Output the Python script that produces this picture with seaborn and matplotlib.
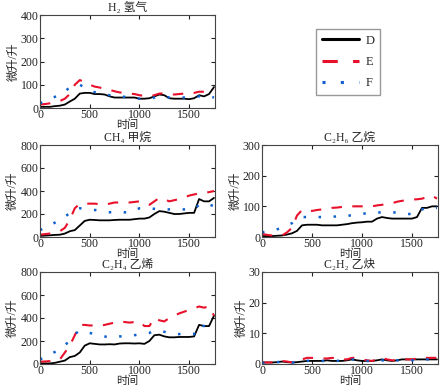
import numpy as np
import pandas as pd
from matplotlib import pyplot as plt
from matplotlib.lines import Line2D
import seaborn as sns

# time axis, one reading every 50 units
t = np.arange(0, 1800, 50)

h2_d = [5, 5, 5, 8, 10, 15, 28, 40, 62, 65, 65, 60, 60, 58, 50, 45, 45, 45, 45, 45, 40, 40, 42, 50, 58, 55, 42, 40, 40, 40, 38, 42, 55, 50, 60, 90]
h2_e = [15, 17, 20, 25, 30, 40, 60, 100, 120, 112, 100, 92, 88, 82, 78, 72, 67, 65, 62, 60, 55, 52, 50, 55, 62, 63, 60, 58, 60, 62, 65, 65, 70, 70, 70, 80]
h2_f = [20, 30, 40, 48, 55, 70, 90, 95, 100, 88, 75, 68, 62, 58, 55, 52, 50, 48, 45, 43, 40, 40, 40, 45, 50, 48, 45, 45, 45, 45, 45, 48, 50, 50, 50, 45]

ch4_d = [10, 12, 15, 18, 20, 30, 50, 60, 100, 140, 150, 148, 145, 145, 145, 148, 150, 150, 150, 155, 160, 160, 170, 200, 225, 220, 210, 200, 200, 205, 210, 210, 330, 310, 310, 340]
ch4_e = [20, 25, 30, 40, 50, 80, 150, 250, 290, 290, 290, 290, 285, 280, 290, 300, 300, 300, 300, 305, 310, 290, 280, 310, 340, 330, 310, 320, 330, 345, 360, 370, 380, 385, 390, 400]
ch4_f = [60, 80, 100, 125, 150, 175, 210, 240, 250, 245, 240, 235, 230, 220, 215, 218, 220, 215, 210, 230, 250, 250, 250, 245, 240, 240, 240, 240, 240, 240, 240, 240, 280, 290, 280, 270]

c2h6_d = [3, 3, 3, 4, 5, 8, 12, 20, 38, 40, 40, 40, 38, 38, 38, 38, 40, 42, 45, 47, 48, 50, 50, 60, 65, 62, 60, 60, 60, 60, 60, 65, 95, 95, 100, 100]
c2h6_e = [10, 7, 5, 5, 5, 15, 30, 70, 88, 88, 85, 88, 90, 92, 95, 96, 98, 98, 100, 100, 100, 100, 100, 103, 105, 108, 110, 115, 118, 120, 122, 123, 125, 130, 135, 125]
c2h6_f = [15, 18, 20, 25, 30, 38, 45, 58, 65, 65, 65, 65, 65, 65, 65, 68, 70, 70, 70, 72, 75, 78, 80, 80, 80, 80, 80, 80, 78, 75, 75, 75, 90, 95, 95, 95]

c2h4_d = [5, 5, 5, 10, 20, 30, 60, 70, 100, 160, 180, 175, 170, 170, 172, 170, 178, 180, 180, 178, 180, 175, 200, 250, 255, 240, 232, 232, 235, 235, 235, 240, 340, 330, 330, 420]
c2h4_e = [20, 22, 25, 30, 40, 100, 160, 250, 340, 340, 335, 335, 330, 340, 350, 360, 370, 365, 360, 365, 370, 330, 330, 400, 380, 370, 400, 420, 440, 455, 470, 485, 500, 490, 500, 420]
c2h4_f = [40, 60, 80, 105, 130, 165, 200, 260, 290, 280, 270, 260, 250, 240, 230, 235, 240, 240, 240, 250, 260, 265, 270, 290, 285, 280, 270, 260, 260, 260, 260, 260, 340, 330, 320, 290]

c2h2_d = [0.5, 0.5, 0.5, 0.6, 0.8, 0.6, 0.5, 0.6, 0.8, 1.0, 1.0, 1.0, 1.0, 1.2, 1.0, 1.0, 1.0, 1.2, 1.5, 1.2, 1.0, 1.0, 1.0, 1.2, 1.5, 1.2, 1.0, 1.2, 1.5, 1.5, 1.5, 1.5, 1.5, 1.5, 1.5, 1.5]
c2h2_e = [0.5, 0.5, 0.5, 0.8, 1.0, 0.8, 0.5, 0.8, 1.5, 2.0, 2.0, 1.8, 1.8, 1.8, 2.0, 1.8, 1.5, 1.5, 2.0, 2.0, 1.5, 1.2, 1.0, 1.5, 2.0, 1.5, 1.2, 1.2, 1.5, 1.5, 1.5, 1.8, 2.0, 2.0, 2.0, 2.0]
c2h2_f = [0.3, 0.5, 0.5, 0.6, 0.8, 0.6, 0.5, 0.5, 0.6, 1.0, 1.2, 1.2, 1.0, 1.0, 1.0, 1.0, 1.2, 1.2, 1.5, 1.2, 1.0, 1.0, 1.0, 1.2, 1.2, 1.0, 1.0, 1.2, 1.2, 1.2, 1.2, 1.5, 1.5, 1.5, 1.5, 1.5]

titles = ['H₂ 氢气', 'CH₄ 甲烷', 'C₂H₆ 乙烷', 'C₂H₄ 乙烯', 'C₂H₂ 乙炔']
ymax = [400, 800, 300, 800, 30]
ystep = [100, 200, 100, 200, 10]
series = [
    (h2_d, h2_e, h2_f),
    (ch4_d, ch4_e, ch4_f),
    (c2h6_d, c2h6_e, c2h6_f),
    (c2h4_d, c2h4_e, c2h4_f),
    (c2h2_d, c2h2_e, c2h2_f),
]

sns.set_style('ticks')
plt.rcParams['font.family'] = ['Liberation Serif', 'Noto Sans CJK SC', 'DejaVu Sans']

W, H = 446, 389
fig = plt.figure(figsize=(W / 100, H / 100), dpi=100)

# axes boxes in pixels: left, top, right, bottom
boxes = [(40, 15, 215, 108), (40, 145, 215, 237), (262, 145, 438, 237),
         (40, 272, 215, 364), (262, 272, 438, 364)]

styles = [
    dict(color='black', linestyle='-', linewidth=1.3),
    dict(color='#e8102a', linestyle=(0, (5, 5)), linewidth=1.5),
    dict(color='#1060d0', linestyle=(0, (1, 5)), linewidth=1.8),
]

for i, (l, tp, r, b) in enumerate(boxes):
    ax = fig.add_axes([l / W, 1 - b / H, (r - l) / W, (b - tp) / H])
    for vals, st in zip(series[i], styles):
        df = pd.DataFrame({'t': t, 'v': vals})
        sns.lineplot(data=df, x='t', y='v', ax=ax, **st)
    ax.set_xlim(0, 1760)
    ax.set_ylim(0, ymax[i])
    ax.set_xticks([0, 500, 1000, 1500])
    ax.set_yticks(np.arange(0, ymax[i] + 1, ystep[i]))
    ax.tick_params(direction='in', length=3, labelsize=8.5, top=True, right=True,
                   pad=1, colors='#222222')
    for sp in ax.spines.values():
        sp.set_color('#444444')
        sp.set_linewidth(0.8)
    ax.set_title(titles[i], fontsize=8.5, pad=3)
    ax.set_xlabel('时间', fontsize=8, labelpad=-1)
    ax.set_ylabel('微升/升', fontsize=8.5, labelpad=1)

handles = [Line2D([], [], **styles[0]), Line2D([], [], **styles[1]),
           Line2D([], [], **styles[2])]
for h in handles:
    h.set_linewidth(2.2)
leg = fig.legend(handles, ['D', 'E', 'F'], loc='upper left',
                 bbox_to_anchor=(316 / W, 1 - 29 / H), borderaxespad=0,
                 fontsize=9, handlelength=3.0, labelspacing=0.75,
                 handletextpad=0.5, borderpad=0.45, fancybox=False,
                 framealpha=1)
leg.get_frame().set_edgecolor('#999999')

plt.savefig('out.png', dpi=100)
plt.close()
